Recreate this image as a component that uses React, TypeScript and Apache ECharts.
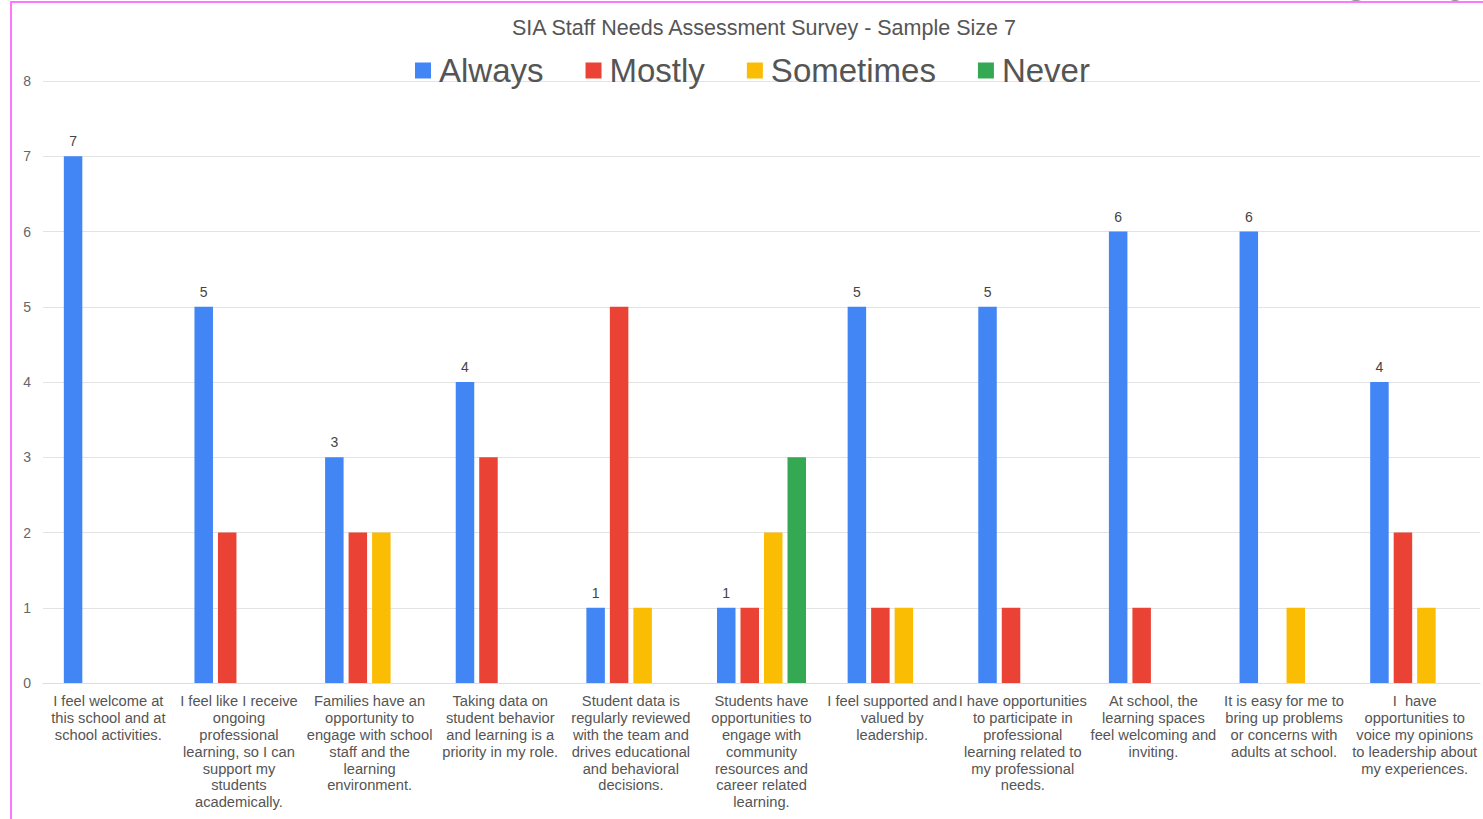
import React, { useEffect, useRef } from "react";
import * as echarts from "echarts";

const categories: string[] = [
  "I feel welcome at\nthis school and at\nschool activities.",
  "I feel like I receive\nongoing\nprofessional\nlearning, so I can\nsupport my\nstudents\nacademically.",
  "Families have an\nopportunity to\nengage with school\nstaff and the\nlearning\nenvironment.",
  "Taking data on\nstudent behavior\nand learning is a\npriority in my role.",
  "Student data is\nregularly reviewed\nwith the team and\ndrives educational\nand behavioral\ndecisions.",
  "Students have\nopportunities to\nengage with\ncommunity\nresources and\ncareer related\nlearning.",
  "I feel supported and\nvalued by\nleadership.",
  "I have opportunities\nto participate in\nprofessional\nlearning related to\nmy professional\nneeds.",
  "At school, the\nlearning spaces\nfeel welcoming and\ninviting.",
  "It is easy for me to\nbring up problems\nor concerns with\nadults at school.",
  "I  have\nopportunities to\nvoice my opinions\nto leadership about\nmy experiences.",
];

const always: number[] = [7, 5, 3, 4, 1, 1, 5, 5, 6, 6, 4];
const mostly: number[] = [0, 2, 2, 3, 5, 1, 1, 1, 1, 0, 2];
const sometimes: number[] = [0, 0, 2, 0, 1, 2, 1, 0, 0, 1, 1];
const never: number[] = [0, 0, 0, 0, 0, 3, 0, 0, 0, 0, 0];

const seriesNames = ["Always", "Mostly", "Sometimes", "Never"];
const seriesColors = ["#4285F4", "#EA4335", "#FBBC04", "#34A853"];
const yTicks = { min: 0, max: 8, interval: 1 };

const FONT = "'Liberation Sans', Arial, sans-serif";

export default function App() {
  const ref = useRef<HTMLDivElement>(null);

  useEffect(() => {
    if (!ref.current) return;
    const chart = echarts.init(ref.current, undefined, { renderer: "svg" });
    const datasets = [always, mostly, sometimes, never];
    chart.setOption({
      animation: false,
      backgroundColor: "#ffffff",
      textStyle: { fontFamily: FONT },
      title: {
        text: "SIA Staff Needs Assessment Survey - Sample Size 7",
        left: 507,
        top: 12,
        textStyle: { fontFamily: FONT, fontSize: 21.5, fontWeight: "normal", color: "#555555" },
      },
      legend: {
        data: seriesNames,
        left: 410,
        top: 49,
        itemWidth: 16,
        itemHeight: 16,
        itemGap: 42,
        icon: "rect",
        textStyle: { fontFamily: FONT, fontSize: 33, color: "#555555", padding: [0, 0, 0, 3] },
      },
      grid: { left: 43, right: 3, top: 81, bottom: 136, containLabel: false },
      xAxis: {
        type: "category",
        data: categories,
        axisLine: { show: true, lineStyle: { color: "#dddddd", width: 1 } },
        axisTick: { show: false },
        axisLabel: {
          interval: 0,
          fontFamily: FONT,
          fontSize: 14.7,
          color: "#555555",
          lineHeight: 16.8,
          margin: 10,
          align: "center",
        },
      },
      yAxis: {
        type: "value",
        min: yTicks.min,
        max: yTicks.max,
        interval: yTicks.interval,
        axisLine: { show: false },
        axisTick: { show: false },
        splitLine: { lineStyle: { color: "#e3e3e3", width: 1 } },
        axisLabel: { fontFamily: FONT, fontSize: 14, color: "#666666", margin: 12 },
      },
      series: seriesNames.map((name, i) => ({
        name,
        type: "bar",
        data: datasets[i],
        barWidth: 18.5,
        barGap: "27%",
        itemStyle: { color: seriesColors[i] },
        label:
          i === 0
            ? {
                show: true,
                position: "top",
                distance: 8,
                fontFamily: FONT,
                fontSize: 14,
                color: "#444444",
              }
            : { show: false },
      })),
      graphic: [
        { type: "ellipse", shape: { cx: 1356, cy: -14, rx: 14, ry: 15 }, style: { fill: "#8a8f99" } },
        { type: "ellipse", shape: { cx: 1455, cy: -14, rx: 12, ry: 15 }, style: { fill: "#8a8f99" } },
        { type: "line", shape: { x1: 10, y1: 2, x2: 1483, y2: 2 }, style: { stroke: "#ff77ff", lineWidth: 2 } },
        { type: "line", shape: { x1: 11, y1: 1, x2: 11, y2: 819 }, style: { stroke: "#ff77ff", lineWidth: 2 } },
      ],
    });
    return () => chart.dispose();
  }, []);

  return (
    <div
      ref={ref}
      style={{ position: "fixed", left: 0, top: 0, width: 1483, height: 819, background: "#fff" }}
    />
  );
}
